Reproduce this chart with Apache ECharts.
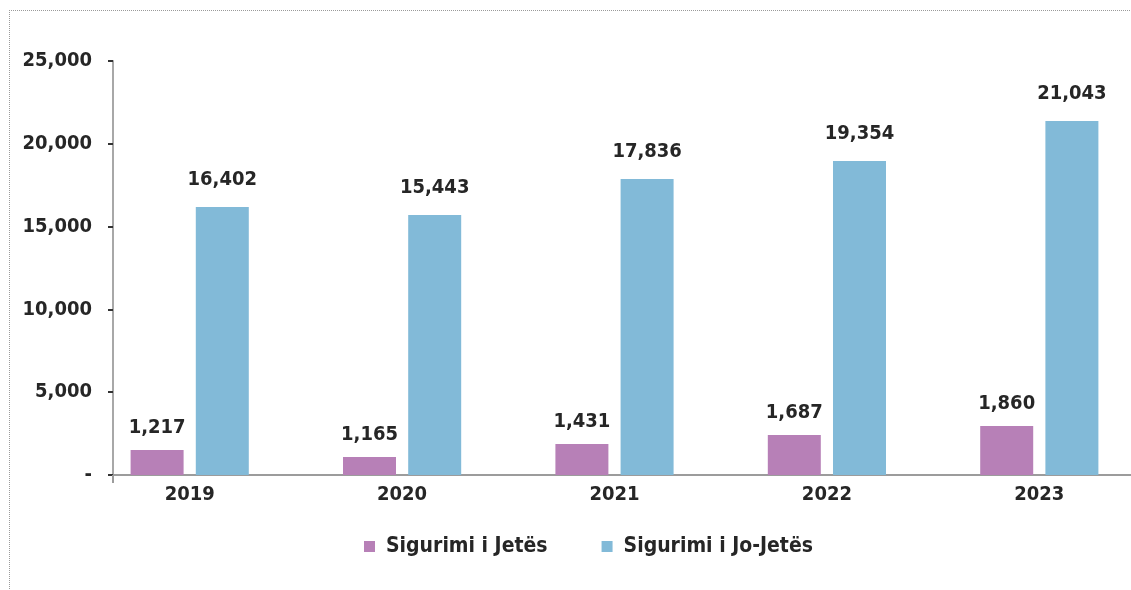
<!DOCTYPE html>
<html>
<head>
<meta charset="utf-8">
<script src="https://cdn.jsdelivr.net/npm/echarts@6/dist/echarts.min.js"></script>
<style>
html,body{margin:0;padding:0;background:#fff;overflow:hidden;}
#wrap{position:absolute;left:0;top:0;width:1131px;height:590px;overflow:hidden;}
#frame{position:absolute;left:9px;top:10px;width:1140px;height:600px;border-top:1px dotted #9a9a9a;border-left:1px dotted #9a9a9a;}
#chart{position:absolute;left:0;top:0;width:1200px;height:590px;}
</style>
</head>
<body>
<div id="wrap"><div id="frame"></div><div id="chart"></div></div>
<script>
// Data
const years = ['2019', '2020', '2021', '2022', '2023'];
const lifeValues = [1510, 1087, 1872, 2415, 2959];          // bar heights
const nonLifeValues = [16184, 15700, 17874, 18961, 21377];  // bar heights
const lifeLabels = ['1,217', '1,165', '1,431', '1,687', '1,860'];
const nonLifeLabels = ['16,402', '15,443', '17,836', '19,354', '21,043'];
const seriesNames = ['Sigurimi i Jetës', 'Sigurimi i Jo-Jetës'];
const yTicks = {min: 0, max: 25000, interval: 5000};

const FONT = "'DejaVu Sans Condensed', 'DejaVu Sans', sans-serif";
const TXT = '#262626';
const chart = echarts.init(document.getElementById('chart'), null, {renderer: 'canvas'});
chart.setOption({
  animation: false,
  backgroundColor: 'transparent',
  textStyle: {fontFamily: FONT},
  legend: {
    data: seriesNames,
    left: 364, top: 536, padding: 0,
    itemWidth: 11, itemHeight: 11, itemGap: 54,
    icon: 'rect',
    textStyle: {fontFamily: FONT, fontWeight: 'bold', fontSize: 21, color: TXT, padding: [0, 0, 0, 6]}
  },
  grid: [
    {left: 83.5, right: 54.5, top: 61, bottom: 115, containLabel: false},
    {left: 113, right: 50, top: 61, bottom: 115, containLabel: false}
  ],
  xAxis: [
    {
      type: 'category', gridIndex: 0, data: years,
      axisLine: {show: false}, axisTick: {show: false},
      axisLabel: {margin: 10, fontFamily: FONT, fontWeight: 'bold', fontSize: 20, color: TXT}
    },
    {
      type: 'category', gridIndex: 1, data: [''],
      axisLine: {show: true, lineStyle: {color: '#9c9c9c', width: 2}},
      axisTick: {show: true, length: 8, lineStyle: {color: '#9c9c9c', width: 2}},
      axisLabel: {show: false}
    }
  ],
  yAxis: [
    {
      type: 'value', gridIndex: 0, min: yTicks.min, max: yTicks.max, interval: yTicks.interval,
      offset: -29.5,
      axisLine: {show: true, lineStyle: {color: '#a8a8a8', width: 2}},
      axisTick: {show: true, length: 5, lineStyle: {color: '#333', width: 2}},
      splitLine: {show: false},
      axisLabel: {
        margin: 21, fontFamily: FONT, fontWeight: 'bold', fontSize: 20, color: TXT,
        formatter: v => v === 0 ? '-' : v.toLocaleString('en-US')
      }
    },
    {type: 'value', gridIndex: 1, min: yTicks.min, max: yTicks.max, show: false}
  ],
  series: [
    {
      name: seriesNames[0], type: 'bar', xAxisIndex: 0, yAxisIndex: 0,
      data: lifeValues, barWidth: 53, barGap: '23%',
      itemStyle: {color: '#B780B7'},
      label: {show: true, position: 'top', distance: 12, fontFamily: FONT, fontWeight: 'bold', fontSize: 20, color: TXT,
        formatter: p => lifeLabels[p.dataIndex]}
    },
    {
      name: seriesNames[1], type: 'bar', xAxisIndex: 0, yAxisIndex: 0,
      data: nonLifeValues, barWidth: 53, barGap: '23%',
      itemStyle: {color: '#82BAD8'},
      label: {show: true, position: 'top', distance: 17, fontFamily: FONT, fontWeight: 'bold', fontSize: 20, color: TXT,
        formatter: p => nonLifeLabels[p.dataIndex]}
    }
  ]
});
</script>
</body>
</html>
